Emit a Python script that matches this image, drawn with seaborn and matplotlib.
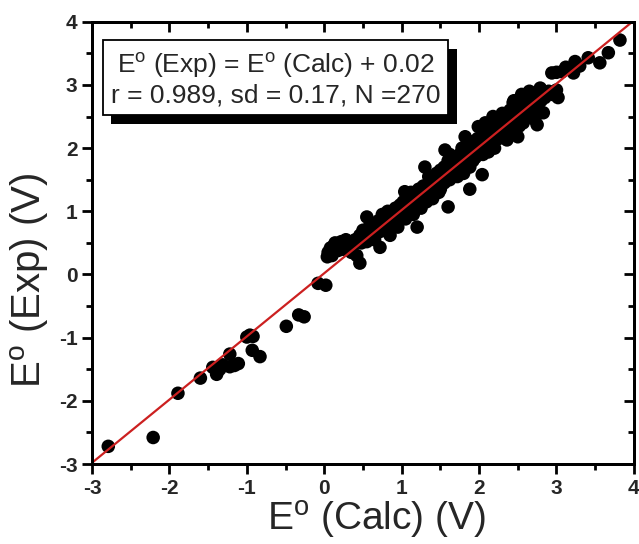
import matplotlib
matplotlib.use("Agg")
import matplotlib.pyplot as plt
import matplotlib.patheffects as pe
from matplotlib.ticker import MultipleLocator
import seaborn as sns
import pandas as pd
import numpy as np

# E° values (V)
calc_low = [-2.79, -2.21, -1.89, -1.60, -1.44, -1.39, -1.35, -1.31, -1.22, -1.22, -1.16,
            -1.11, -1.00, -0.96, -0.92, -0.93, -0.83, -0.49, -0.33, -0.26, -0.08, 0.02]
exp_low = [-2.72, -2.58, -1.88, -1.64, -1.47, -1.58, -1.50, -1.43, -1.26, -1.46, -1.44,
           -1.41, -0.99, -0.96, -0.98, -1.20, -1.30, -0.82, -0.64, -0.67, -0.14, -0.17]

calc_mid = [0.04, 0.05, 0.08, 0.10, 0.12, 0.14, 0.18, 0.20, 0.22, 0.25, 0.28, 0.30, 0.32,
            0.35, 0.38, 0.40, 0.42, 0.46, 0.46, 0.48,
            0.50, 0.52, 0.55, 0.55, 0.58, 0.60, 0.62, 0.65, 0.68, 0.70, 0.72, 0.72, 0.75,
            0.78, 0.80, 0.82, 0.85, 0.85, 0.88, 0.90, 0.92, 0.95, 0.95, 0.98, 1.00,
            1.02, 1.04, 1.05, 1.05, 1.08, 1.10, 1.12, 1.15, 1.15, 1.18, 1.20, 1.20, 1.22,
            1.25, 1.25, 1.28, 1.30, 1.30, 1.32, 1.35, 1.35, 1.38, 1.40, 1.40, 1.42, 1.45,
            1.45, 1.48, 1.50, 1.50, 1.50]
exp_mid = [0.28, 0.35, 0.42, 0.30, 0.45, 0.50, 0.38, 0.48, 0.52, 0.40, 0.55, 0.45, 0.50,
           0.35, 0.48, 0.55, 0.30, 0.18, 0.62, 0.50,
           0.70, 0.60, 0.91, 0.52, 0.75, 0.65, 0.80, 0.55, 0.72, 0.85, 0.43, 0.68, 0.95,
           0.80, 0.70, 1.00, 0.88, 0.62, 0.95, 0.80, 1.05, 0.90, 0.75, 1.10, 0.95,
           1.15, 1.31, 1.00, 0.88, 1.20, 1.05, 1.30, 1.10, 0.95, 1.25, 1.15, 0.75, 1.35,
           1.20, 1.05, 1.40, 1.70, 1.25, 1.15, 1.45, 1.30, 1.50, 1.35, 1.20, 1.55, 1.40,
           1.60, 1.30, 1.50, 1.65, 1.35]

calc_high = [1.52, 1.55, 1.56, 1.55, 1.58, 1.60, 1.60, 1.60, 1.62, 1.65, 1.65, 1.68,
             1.70, 1.70, 1.72, 1.75, 1.75, 1.78, 1.80, 1.80, 1.82, 1.85, 1.85, 1.88,
             1.90, 1.90, 1.92, 1.95, 1.95, 1.98, 2.00, 2.00, 1.99, 1.88,
             1.35, 1.42, 1.47, 1.53, 1.57, 1.63, 1.67, 1.72, 1.77, 1.83, 1.87, 1.93,
             1.97, 2.03, 2.07, 2.13, 2.17, 2.23, 2.27, 2.33, 2.37, 2.43, 2.47, 1.45,
             1.55, 1.65, 1.75, 1.85, 1.95, 2.05, 2.15, 2.25, 2.35, 1.62, 1.78, 2.08,
             2.18, 1.82, 2.04, 2.12, 2.36,
             2.02, 2.05, 2.05, 2.08, 2.10, 2.10, 2.12, 2.15, 2.15, 2.18, 2.20, 2.20,
             2.22, 2.25, 2.25, 2.28, 2.30, 2.30, 2.32, 2.35, 2.35, 2.38, 2.40, 2.40,
             2.42, 2.45, 2.48, 2.50, 2.50, 2.45, 2.55, 2.65,
             2.52, 2.55, 2.58, 2.60, 2.62, 2.65, 2.68, 2.70, 2.72, 2.75, 2.75, 2.78,
             2.79, 2.80, 2.85, 2.90, 2.94, 2.95, 3.00, 3.02, 2.57, 2.62, 2.44, 2.83,
             3.00, 3.07, 3.12, 3.22, 3.24, 3.30, 3.41, 3.56, 3.67, 3.82]
exp_high = [1.58, 1.45, 1.97, 1.70, 1.55, 1.07, 1.65, 1.80, 1.50, 1.70, 1.60, 1.85,
            1.65, 1.75, 1.55, 1.90, 1.70, 1.80, 1.60, 1.95, 1.75, 1.85, 2.00, 1.70,
            1.90, 2.10, 1.80, 2.00, 1.85, 2.15, 1.95, 2.05, 2.34, 1.35,
            1.55, 1.42, 1.52, 1.62, 1.52, 1.75, 1.68, 1.82, 1.72, 1.90, 1.80, 1.95,
            2.05, 2.00, 2.12, 2.20, 2.15, 2.25, 2.35, 2.30, 2.45, 2.50, 2.48, 1.50,
            1.60, 1.65, 1.78, 1.90, 1.98, 2.08, 2.18, 2.28, 2.38, 1.90, 2.00, 2.40,
            2.50, 2.18, 1.58, 1.94, 2.13,
            2.10, 1.90, 2.20, 2.05, 2.30, 2.15, 1.95, 2.25, 2.10, 2.35, 2.20, 2.00,
            2.40, 2.30, 2.15, 2.45, 2.25, 2.55, 2.35, 2.40, 2.20, 2.50, 2.45, 2.60,
            2.30, 2.55, 2.40, 2.65, 2.18, 2.75, 2.85, 2.90,
            2.35, 2.60, 2.45, 2.70, 2.55, 2.75, 2.60, 2.85, 2.45, 2.37, 2.70, 2.90,
            2.95, 2.75, 2.80, 2.90, 3.19, 2.85, 3.20, 2.80, 2.40, 2.65, 2.72, 2.56,
            2.92, 3.21, 3.28, 3.19, 3.37, 3.30, 3.43, 3.35, 3.51, 3.71]

intercept = 0.02
fit_text = "E$^\\mathregular{o}$ (Exp) = E$^\\mathregular{o}$ (Calc) + 0.02\nr = 0.989, sd = 0.17, N =270"

df = pd.DataFrame({
    "calc": calc_low + calc_mid + calc_high,
    "exp": exp_low + exp_mid + exp_high,
})

sns.set_style("ticks")
plt.rcParams["font.family"] = ["Liberation Sans", "DejaVu Sans"]
plt.rcParams["mathtext.default"] = "regular"
plt.rcParams["axes.unicode_minus"] = False

fig = plt.figure(figsize=(6.39, 5.44), dpi=100)
ax = fig.add_axes([0.144, 0.147, 0.848, 0.813])

sns.scatterplot(data=df, x="calc", y="exp", color="black", s=95,
                edgecolor="none", ax=ax, zorder=3)

xs = np.array([-3, 4])
ax.plot(xs, xs + intercept, color="#cc2020", lw=1.6, zorder=4)

ax.set_xlim(-3, 4)
ax.set_ylim(-3, 4)
for a in (ax.xaxis, ax.yaxis):
    a.set_major_locator(MultipleLocator(1))
    a.set_minor_locator(MultipleLocator(0.5))

for s in ax.spines.values():
    s.set_visible(True)
    s.set_linewidth(2)
    s.set_color("black")
ax.tick_params(which="both", direction="out", width=2, labelsize=15,
               top=False, right=False, color="black")
ax.tick_params(which="major", length=7)
ax.tick_params(which="minor", length=4)
for lab in ax.get_xticklabels() + ax.get_yticklabels():
    lab.set_fontweight("bold")

# inward ticks on top and right
ax_top = ax.twiny()
ax_top.set_xlim(ax.get_xlim())
ax_right = ax.twinx()
ax_right.set_ylim(ax.get_ylim())
ax_top.tick_params(axis="x", which="both", top=True, bottom=False,
                   direction="in", width=2, color="black", labeltop=False)
ax_right.tick_params(axis="y", which="both", right=True, left=False,
                     direction="in", width=2, color="black", labelright=False)
for tw, axis in ((ax_top, ax_top.xaxis), (ax_right, ax_right.yaxis)):
    axis.set_major_locator(MultipleLocator(1))
    axis.set_minor_locator(MultipleLocator(0.5))
    tw.tick_params(which="major", length=7)
    tw.tick_params(which="minor", length=4)
    for s in tw.spines.values():
        s.set_linewidth(2)
        s.set_color("black")

ax.set_xlabel("E$^\\mathregular{o}$ (Calc) (V)", fontsize=28)
ax.xaxis.set_label_coords(0.526, -0.08)
ax.set_ylabel("E$^\\mathregular{o}$ (Exp) (V)", fontsize=29)
ax.yaxis.set_label_coords(-0.075, 0.416)

t = ax.text(0.035, 0.935, fit_text, transform=ax.transAxes, fontsize=19,
            ha="left", va="top", ma="center", linespacing=1.2, zorder=6,
            bbox=dict(boxstyle="square,pad=0.3", facecolor="white",
                      edgecolor="black", linewidth=1.3))
t.get_bbox_patch().set_path_effects([
    pe.withSimplePatchShadow(offset=(6, -6), shadow_rgbFace="black", alpha=1.0)
])

fig.savefig("out.png", dpi=100)
